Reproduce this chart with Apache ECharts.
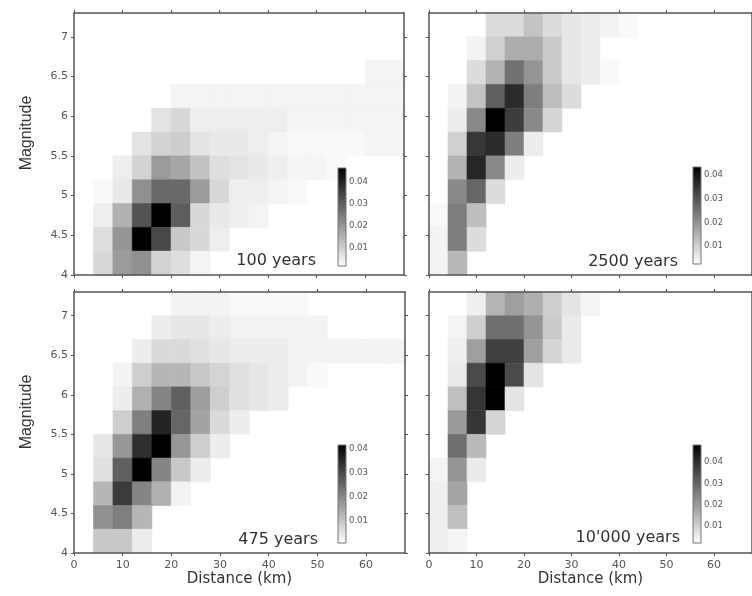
<!DOCTYPE html>
<html>
<head>
<meta charset="utf-8">
<script src="https://cdn.jsdelivr.net/npm/echarts@6/dist/echarts.min.js"></script>
<style>
html, body { margin: 0; padding: 0; background: #fff; }
#chart { width: 752px; height: 596px; }
</style>
</head>
<body>
<div id="chart"></div>
<script>
// bin sizes of the grid (km, magnitude units)
var distStep = 4, magStep = 0.3, magStart = 4;
var xTicks = [0, 10, 20, 30, 40, 50, 60];
var yTicks = [4, 4.5, 5, 5.5, 6, 6.5, 7];
var cbTicks = [0.01, 0.02, 0.03, 0.04];
var periods = ['100 years', '2500 years', '475 years', "10'000 years"];
var cbMin = [0.002, 0.0024, 0.0008, 0.002];
var cbMax = [0.046, 0.0434, 0.0417, 0.048];

// rows from top (M 7.0-7.3) to bottom (M 4.0-4.3); columns 0-4 km, 4-8 km, ...
var p100 = [
    [0],
    [0],
    [0, 0, 0, 0, 0, 0, 0, 0, 0, 0, 0, 0, 0, 0, 0, 0.002, 0.002],
    [0, 0, 0, 0, 0, 0.002, 0.002, 0.002, 0.002, 0.002, 0.002, 0.002, 0.002, 0.002, 0.002, 0.002, 0.002],
    [0, 0, 0, 0, 0.005, 0.007, 0.003, 0.003, 0.003, 0.003, 0.003, 0.002, 0.002, 0.002, 0.002, 0.002, 0.002],
    [0, 0, 0, 0.005, 0.008, 0.009, 0.005, 0.004, 0.004, 0.003, 0.002, 0.001, 0.001, 0.001, 0.001, 0.002, 0.002],
    [0, 0, 0.003, 0.008, 0.018, 0.016, 0.011, 0.006, 0.005, 0.004, 0.003, 0.002, 0.002, 0.001],
    [0, 0.001, 0.004, 0.02, 0.027, 0.027, 0.018, 0.007, 0.003, 0.003, 0.002, 0.001],
    [0, 0.003, 0.014, 0.031, 0.046, 0.029, 0.007, 0.004, 0.003, 0.002],
    [0, 0.006, 0.019, 0.046, 0.033, 0.01, 0.007, 0.003],
    [0, 0.007, 0.018, 0.02, 0.008, 0.006, 0.002]
];
var p2500 = [
    [0, 0, 0, 0.006, 0.006, 0.01, 0.006, 0.004, 0.003, 0.002, 0.001],
    [0, 0, 0.002, 0.008, 0.014, 0.014, 0.009, 0.004, 0.003],
    [0, 0, 0.006, 0.013, 0.024, 0.018, 0.009, 0.004, 0.003, 0.001],
    [0, 0.002, 0.01, 0.027, 0.036, 0.022, 0.011, 0.006],
    [0, 0.003, 0.02, 0.0434, 0.033, 0.02, 0.007],
    [0, 0.008, 0.034, 0.036, 0.022, 0.003],
    [0, 0.013, 0.037, 0.02, 0.003],
    [0, 0.02, 0.026, 0.006],
    [0.001, 0.022, 0.011],
    [0.002, 0.022, 0.006],
    [0.002, 0.012]
];
var p475 = [
    [0, 0, 0, 0, 0, 0.002, 0.002, 0.002, 0.001, 0.001, 0.001, 0.001],
    [0, 0, 0, 0, 0.003, 0.004, 0.004, 0.003, 0.002, 0.002, 0.002, 0.002, 0.002],
    [0, 0, 0, 0.003, 0.006, 0.006, 0.005, 0.004, 0.003, 0.003, 0.003, 0.002, 0.002, 0.002, 0.002, 0.002, 0.002],
    [0, 0, 0.002, 0.008, 0.012, 0.012, 0.009, 0.007, 0.005, 0.004, 0.003, 0.002, 0.001],
    [0, 0, 0.003, 0.013, 0.02, 0.026, 0.016, 0.008, 0.005, 0.004, 0.003],
    [0, 0, 0.008, 0.021, 0.036, 0.025, 0.015, 0.006, 0.003],
    [0, 0.004, 0.017, 0.034, 0.0417, 0.017, 0.008, 0.003],
    [0, 0.005, 0.026, 0.0417, 0.02, 0.009, 0.003],
    [0, 0.012, 0.032, 0.02, 0.013, 0.002],
    [0, 0.018, 0.021, 0.012],
    [0, 0.009, 0.009, 0.003]
];
var p10000 = [
    [0, 0, 0.003, 0.014, 0.018, 0.015, 0.009, 0.005, 0.002],
    [0, 0.002, 0.009, 0.027, 0.027, 0.02, 0.01, 0.004],
    [0, 0.003, 0.018, 0.036, 0.036, 0.018, 0.008, 0.004],
    [0, 0.004, 0.034, 0.048, 0.034, 0.005],
    [0, 0.012, 0.038, 0.048, 0.005],
    [0, 0.019, 0.038, 0.008],
    [0, 0.027, 0.013],
    [0.002, 0.02, 0.004],
    [0.003, 0.017],
    [0.003, 0.012],
    [0.003, 0.002]
];
var panels = [p100, p2500, p475, p10000];

function cells(mat) {
    var out = [];
    for (var i = 0; i < mat.length; i++) {
        var row = mat.length - 1 - i;
        for (var c = 0; c < mat[i].length; c++) {
            if (mat[i][c] > 0) {
                out.push([c * distStep, magStart + row * magStep, mat[i][c]]);
            }
        }
    }
    return out;
}

function drawCell(params, api) {
    var x = api.value(0), y = api.value(1);
    var p0 = api.coord([x, y + magStep]);
    var p1 = api.coord([x + distStep, y]);
    var col = api.visual('color');
    return {
        type: 'rect',
        shape: { x: p0[0], y: p0[1], width: p1[0] - p0[0], height: p1[1] - p0[1] },
        style: { fill: col, stroke: col, lineWidth: 0.6 }
    };
}

function drawBar(params, api) {
    var p0 = api.coord([api.value(0), api.value(3)]);
    var p1 = api.coord([api.value(2), api.value(1)]);
    return {
        type: 'rect',
        shape: { x: p0[0], y: p0[1], width: p1[0] - p0[0], height: p1[1] - p0[1] },
        style: {
            fill: new echarts.graphic.LinearGradient(0, 0, 0, 1, [
                { offset: 0, color: '#000000' },
                { offset: 1, color: '#ffffff' }
            ]),
            stroke: '#777',
            lineWidth: 1
        }
    };
}

var frame = { show: true, onZero: false, lineStyle: { color: '#555', width: 1.5 } };
var tickFont = { color: '#555', fontSize: 11, fontFamily: 'DejaVu Sans' };

var mainGrids = [
    { left: 74, top: 13, width: 330, height: 262 },
    { left: 429, top: 13, width: 328, height: 262 },
    { left: 74, top: 292, width: 331, height: 261 },
    { left: 429, top: 292, width: 328, height: 261 }
];
var barGrids = [
    { left: 338, top: 168, width: 8, height: 98 },
    { left: 693, top: 167, width: 8, height: 97 },
    { left: 338, top: 445, width: 8, height: 98 },
    { left: 693, top: 445, width: 8, height: 98 }
];

var grid = [], xAxis = [], yAxis = [], series = [], visualMap = [];
mainGrids.forEach(function (g, i) {
    grid.push(g);
    var bottomRow = i >= 2, leftCol = i % 2 === 0;
    xAxis.push({
        type: 'value', gridIndex: i, position: 'bottom', min: 0, max: 68, z: 5,
        axisLine: frame,
        axisTick: { customValues: xTicks, length: 3, lineStyle: { color: '#555' } },
        axisLabel: bottomRow ? Object.assign({ customValues: xTicks, margin: 7 }, tickFont) : { show: false },
        splitLine: { show: false },
        name: bottomRow ? 'Distance (km)' : '',
        nameLocation: 'middle', nameGap: 18,
        nameTextStyle: { fontSize: 15, fontFamily: 'DejaVu Sans', color: '#333' }
    });
    xAxis.push({
        type: 'value', gridIndex: i, position: 'top', min: 0, max: 68, z: 5,
        axisLine: frame,
        axisTick: { customValues: xTicks, length: 3, lineStyle: { color: '#555' } },
        axisLabel: { show: false },
        splitLine: { show: false }
    });
    yAxis.push({
        type: 'value', gridIndex: i, position: 'left', min: 4, max: 7.3, z: 5,
        axisLine: frame,
        axisTick: { customValues: yTicks, length: 3, lineStyle: { color: '#555' } },
        axisLabel: leftCol ? Object.assign({ customValues: yTicks, margin: 6 }, tickFont) : { show: false },
        splitLine: { show: false }
    });
    yAxis.push({
        type: 'value', gridIndex: i, position: 'right', min: 4, max: 7.3, z: 5,
        axisLine: frame,
        axisTick: { customValues: yTicks, length: 3, lineStyle: { color: '#555' } },
        axisLabel: { show: false },
        splitLine: { show: false }
    });
    series.push({
        type: 'custom', coordinateSystem: 'cartesian2d',
        xAxisIndex: 2 * i, yAxisIndex: 2 * i,
        renderItem: drawCell,
        encode: { x: 0, y: 1 },
        data: cells(panels[i]),
        silent: true
    });
    visualMap.push({
        show: false, type: 'continuous', seriesIndex: i, dimension: 2,
        min: 0, max: cbMax[i],
        inRange: { color: ['#ffffff', '#000000'] }
    });
});

barGrids.forEach(function (g, i) {
    grid.push(g);
    xAxis.push({ type: 'value', gridIndex: 4 + i, min: 0, max: 1, show: false });
    yAxis.push({
        type: 'value', gridIndex: 4 + i, position: 'right', min: cbMin[i], max: cbMax[i],
        axisLine: { show: false },
        axisTick: { show: true, customValues: cbTicks, length: 2, lineStyle: { color: '#888' } },
        axisLabel: {
            customValues: cbTicks, margin: 3, color: '#555', fontSize: 8.5, fontFamily: 'DejaVu Sans',
            formatter: function (v) { return v.toFixed(2); }
        },
        splitLine: { show: false }
    });
    series.push({
        type: 'custom', coordinateSystem: 'cartesian2d',
        xAxisIndex: 8 + i, yAxisIndex: 8 + i,
        renderItem: drawBar,
        data: [[0, cbMin[i], 1, cbMax[i]]],
        silent: true
    });
});

var labelPos = [[316, 261], [678, 262], [318, 540], [680, 538]];
var graphic = periods.map(function (t, i) {
    return {
        type: 'text', x: labelPos[i][0], y: labelPos[i][1], z: 10,
        style: { text: t, align: 'right', verticalAlign: 'middle', fontSize: 16, fontFamily: 'DejaVu Sans', fill: '#333' }
    };
});
[133, 412].forEach(function (y) {
    graphic.push({
        type: 'text', x: 27, y: y, rotation: Math.PI / 2,
        style: { text: 'Magnitude', align: 'center', verticalAlign: 'middle', fontSize: 16, fontFamily: 'Liberation Sans', fill: '#333' }
    });
});

var option = {
    backgroundColor: '#ffffff',
    animation: false,
    grid: grid,
    xAxis: xAxis,
    yAxis: yAxis,
    visualMap: visualMap,
    series: series,
    graphic: graphic
};

var myChart = echarts.init(document.getElementById('chart'));
myChart.setOption(option);
</script>
</body>
</html>
